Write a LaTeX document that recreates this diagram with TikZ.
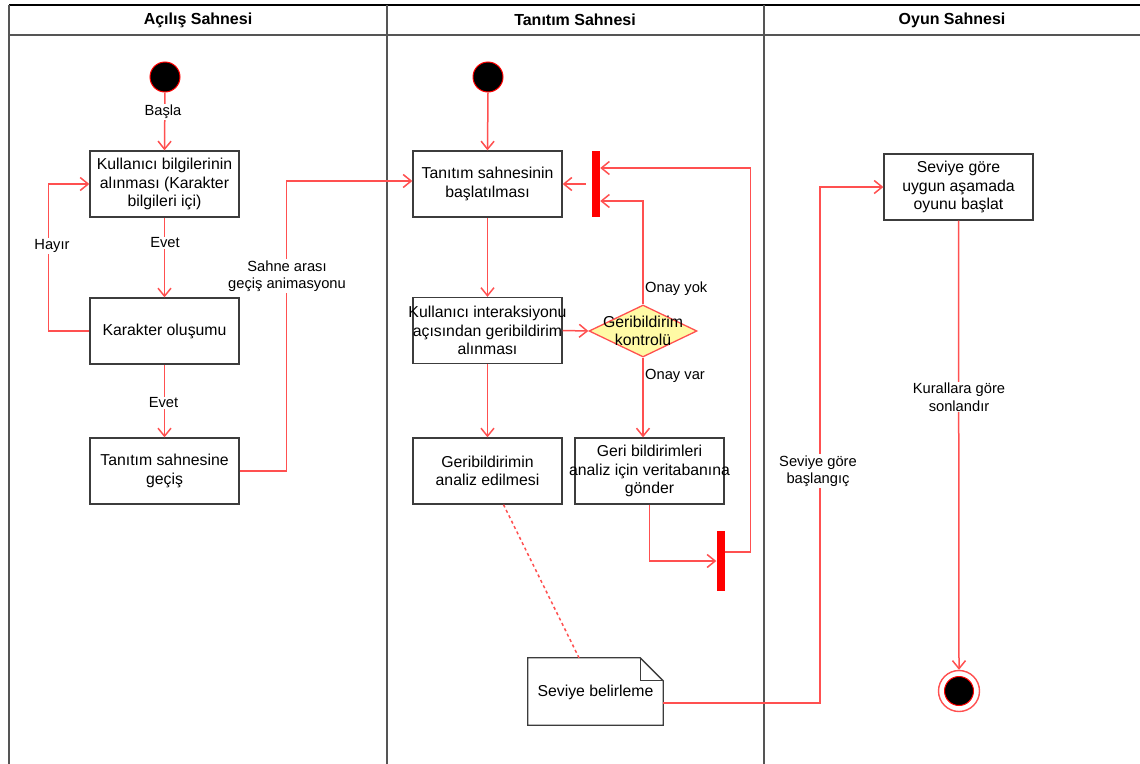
\documentclass[tikz,border=0pt]{standalone}
\usepackage{fontspec}
\setmainfont{Liberation Sans}
\usetikzlibrary{arrows.meta,shapes.geometric,calc}
\definecolor{conn}{RGB}{255,80,80}
\definecolor{boxline}{RGB}{60,60,60}
\definecolor{laneline}{RGB}{85,85,85}
\definecolor{dfill}{RGB}{255,250,165}
\newcommand{\fitline}[1]{\makebox[140pt][c]{#1}}
\begin{document}
\begin{tikzpicture}[x=1pt,y=-1pt,
  >={Straight Barb[length=8pt,width=13pt]},
  actbox/.style={draw=boxline,line width=1.3pt,fill=white,minimum width=149pt,minimum height=66pt,align=center,inner sep=0pt,font=\fontsize{15.8}{18.5}\selectfont},
  lbl/.style={fill=white,align=center,inner sep=1pt,font=\fontsize{14.7}{17.5}\selectfont},
  lblnf/.style={align=left,anchor=west,inner sep=0pt,font=\fontsize{14.7}{17.5}\selectfont},
  hdr/.style={font=\fontsize{16}{19}\selectfont\bfseries},
  conn/.style={draw=conn,line width=1.5pt},
  bar/.style={fill=red,draw=none,minimum width=8pt,inner sep=0pt},
  startnode/.style={circle,fill=black,draw=red,line width=1pt,minimum size=30pt,inner sep=0pt},
  lane/.style={draw=laneline,line width=2pt}
]
\useasboundingbox (0,0) rectangle (1140,763);
% swimlanes
\draw[black,line width=1.6pt] (9,5) -- (1142,5);
\draw[laneline,line width=1.6pt] (9,35) -- (1142,35);
\draw[lane] (9,5) -- (9,765);
\draw[lane] (387,5) -- (387,765);
\draw[lane] (764,5) -- (764,765);
\node[hdr] (h1) at (198,20) {Açılış Sahnesi};
\node[hdr] (h2) at (575,20) {Tanıtım Sahnesi};
\node[hdr] (h3) at (952,20) {Oyun Sahnesi};

% lane 1
\node[startnode] (s1) at (165,77) {};
\node[actbox] (b1) at (164.5,184) {Kullanıcı bilgilerinin\\alınması (Karakter\\bilgileri içi)};
\node[actbox] (b2) at (164.5,331) {Karakter oluşumu};
\node[actbox] (b3) at (164.5,471) {Tanıtım sahnesine\\geçiş};

% lane 2
\node[startnode] (s2) at (488,77) {};
\node[actbox] (t1) at (487.5,184) {Tanıtım sahnesinin\\başlatılması};
\node[bar,minimum height=66pt] (bar1) at (596,184) {};
\node[actbox] (t2) at (487.5,330.5) {\fitline{Kullanıcı interaksiyonu}\\\fitline{açısından geribildirim}\\alınması};
\node[diamond,draw=conn,fill=dfill,line width=1.3pt,minimum width=108pt,minimum height=52pt,inner sep=0pt] (d) at (643,331) {};
\node[align=center,inner sep=0pt,font=\fontsize{15.8}{18.5}\selectfont] (dtext) at (643,331) {Geribildirim\\kontrolü};
\node[actbox] (t3) at (487.5,471) {Geribildirimin\\analiz edilmesi};
\node[actbox] (t4) at (649.5,471) {Geri bildirimleri\\\fitline{analiz için veritabanına}\\gönder};
\node[bar,minimum height=60pt] (bar2) at (720.5,561) {};
\node[minimum width=135pt,minimum height=67pt,inner sep=0pt] (note) at (595.5,691.5) {};
\draw[boxline,line width=1.3pt,fill=white]
  (note.north west) -- ($(note.north east)+(-23,0)$) -- ($(note.north east)+(0,23)$) -- (note.south east) -- (note.south west) -- cycle;
\draw[boxline,line width=1.3pt]
  ($(note.north east)+(-23,0)$) -- ($(note.north east)+(-23,23)$) -- ($(note.north east)+(0,23)$);
\node[font=\fontsize{15.8}{18.5}\selectfont] (notetext) at (595.5,692) {Seviye belirleme};

% lane 3
\node[actbox] (o1) at (958.5,187) {Seviye göre\\uygun aşamada\\oyunu başlat};
\node[circle,draw=conn,fill=white,line width=1.4pt,minimum size=41pt,inner sep=0pt] (e) at (959,691) {};
\node[circle,fill=black,draw=red,line width=1pt,minimum size=29pt,inner sep=0pt] (ein) at (e.center) {};

% connectors lane 1
\draw[conn,->] (s1.south) -- (b1.north);
\draw[conn,->] (b1.south) -- (b2.north);
\draw[conn,->] (b2.south) -- (b3.north);
\draw[conn,->] (b2.west) -- ++(-41,0) |- (b1.west);
\draw[conn,->] (b3.east) -- ++(47,0) |- ([yshift=3pt]t1.west);

% connectors lane 2
\draw[conn,->] (s2.south) -- (t1.north);
\draw[conn,->] ([xshift=-6pt]bar1.west) -- (t1.east);
\draw[conn,->] (t1.south) -- (t2.north);
\draw[conn,->] (t2.east) -- (d.west);
\draw[conn,->] (d.north) |- ([yshift=-17pt]bar1.east);
\draw[conn,->] (d.south) -- (d.south |- t4.north);
\draw[conn,->] (t2.south) -- (t3.north);
\draw[conn,->] (t4.south) |- (bar2.west);
\draw[conn,->] ([yshift=9pt]bar2.east) -- ++(26,0) |- ([yshift=16pt]bar1.east);
\draw[conn,dash pattern=on 3pt off 3pt] ([xshift=16pt]t3.south) -- ([xshift=-16.5pt]note.north);
\draw[conn,->] ([yshift=-11.5pt]note.east) -- ++(157,0) |- (o1.west);

% connectors lane 3
\draw[conn,->] (o1.south) -- (e.north);

% labels
\node[lbl] (l1) at (163,112) {Başla};
\node[lbl] (l2) at (165,243) {Evet};
\node[lbl] (l3) at (163.5,403) {Evet};
\node[lbl] (l4) at (52,246) {Hayır};
\node[lbl] (l5) at (287,276) {Sahne arası\\geçiş animasyonu};
\node[lblnf] (l6) at (645,289) {Onay yok};
\node[lblnf] (l7) at (645,376) {Onay var};
\node[lbl] (l8) at (818,471) {Seviye göre\\başlangıç};
\node[lbl] (l9) at (959,397) {Kurallara göre\\sonlandır};
\end{tikzpicture}
\end{document}
